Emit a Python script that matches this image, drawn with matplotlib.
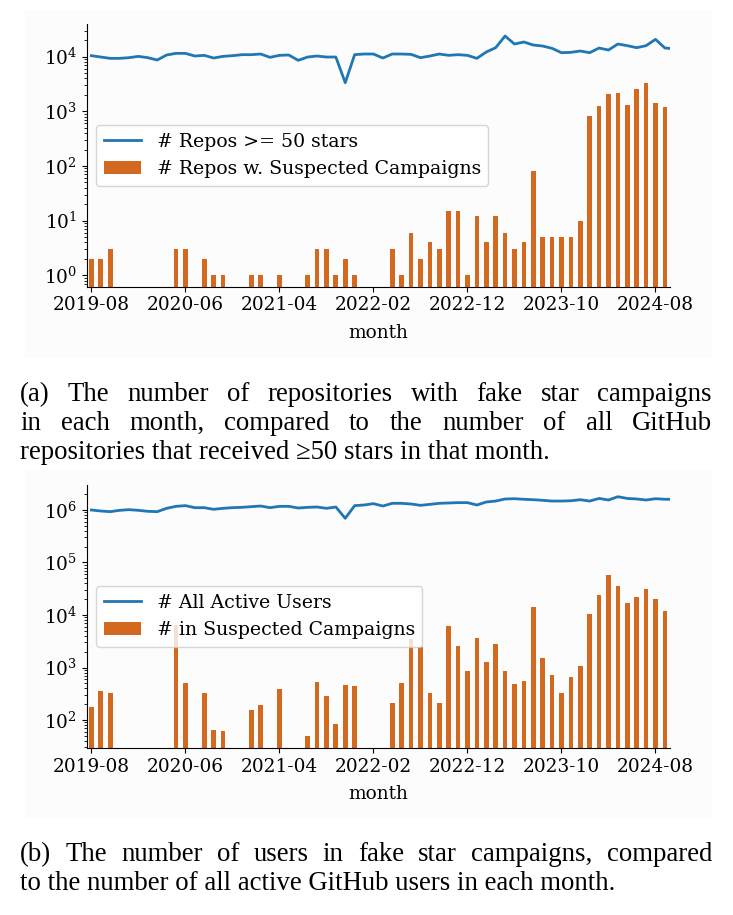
import numpy as np
import pandas as pd
import matplotlib
matplotlib.use("Agg")
import matplotlib.pyplot as plt
from matplotlib.patches import Rectangle

plt.rcParams['font.family'] = ['DejaVu Serif']
plt.rcParams['mathtext.fontset'] = 'dejavuserif'

# ---------------- data ----------------
months = [str(p) for p in pd.period_range('2019-08', periods=63, freq='M')]
tick_labels = ['2019-08', '2020-06', '2021-04', '2022-02', '2022-12', '2023-10', '2024-08']

nan = np.nan
repos_50_stars = [10430, 9860, 9320, 9320, 9590, 10140, 9590, 8690, 10730, 11510,
                  11510, 10280, 10580, 9450, 10140, 10430, 10880, 10880, 11190, 9730,
                  10580, 10730, 8570, 9860, 10280, 9860, 9860, 3340, 10880, 11190,
                  11190, 9450, 11190, 11190, 11030, 9590, 10280, 11190, 10580, 10880,
                  10580, 9320, 12170, 14610, 23890, 17050, 18550, 16340, 15670, 14210,
                  11830, 12000, 12700, 11830, 14400, 13240, 17050, 15900, 14610, 15900,
                  20760, 14400, 14000]
repos_campaigns = [2, 2, 3, nan, nan, nan, nan, nan, nan, 3,
                   3, nan, 2, 1, 1, nan, nan, 1, 1, nan,
                   1, nan, nan, 1, 3, 3, 1, 2, 1, nan,
                   nan, nan, 3, 1, 6, 2, 4, 3, 15, 15,
                   1, 12, 4, 12, 6, 3, 4, 80, 5, 5,
                   5, 5, 10, 820, 1250, 2070, 2160, 1300, 2560, 3300,
                   1420, 1200, nan]

active_users = [1.0e6, 9.56e5, 9.30e5, 9.85e5, 1.015e6, 9.85e5, 9.43e5, 9.30e5, 1.076e6, 1.174e6,
                1.21e6, 1.107e6, 1.107e6, 1.03e6, 1.076e6, 1.107e6, 1.124e6, 1.157e6, 1.19e6, 1.107e6,
                1.174e6, 1.174e6, 1.09e6, 1.124e6, 1.14e6, 1.076e6, 1.14e6, 6.94e5, 1.21e6, 1.245e6,
                1.32e6, 1.19e6, 1.34e6, 1.34e6, 1.30e6, 1.227e6, 1.28e6, 1.34e6, 1.36e6, 1.38e6,
                1.38e6, 1.245e6, 1.42e6, 1.48e6, 1.62e6, 1.64e6, 1.60e6, 1.57e6, 1.53e6, 1.48e6,
                1.48e6, 1.50e6, 1.57e6, 1.48e6, 1.66e6, 1.55e6, 1.79e6, 1.66e6, 1.62e6, 1.55e6,
                1.64e6, 1.60e6, 1.60e6]
users_campaigns = [180, 350, 320, nan, nan, nan, nan, nan, nan, 6500,
                   510, nan, 320, 64, 62, nan, nan, 155, 193, nan,
                   390, nan, nan, 50, 530, 286, 84, 464, 445, nan,
                   nan, nan, 211, 507, 3500, 2500, 327, 211, 6170, 2570,
                   858, 3650, 1274, 2806, 858, 485, 553, 14190, 1517, 719,
                   327, 659, 1069, 10450, 24040, 57800, 35600, 16900, 22000, 31300,
                   20200, 11900, nan]

caption_a = ["(a) The number of repositories with fake star campaigns",
             "in each month, compared to the number of all GitHub",
             "repositories that received \u226550 stars in that month."]
caption_b = ["(b) The number of users in fake star campaigns, compared",
             "to the number of all active GitHub users in each month."]

# ---------------- figure ----------------
W, H = 733, 915
fig = plt.figure(figsize=(W / 100, H / 100), dpi=100)
fig.patch.set_facecolor('white')

# faint background of the embedded chart images
for (x0, y0, x1, y1) in [(25, 10, 712, 358), (25, 470, 712, 818)]:
    fig.patches.append(Rectangle((x0 / W, 1 - y1 / H), (x1 - x0) / W, (y1 - y0) / H,
                                 transform=fig.transFigure, facecolor='#fcfcfc',
                                 edgecolor='none', zorder=-10))

BLUE = '#1f77b4'
ORANGE = '#d2691e'
FS = 13.3

def make_panel(rect, line_vals, bar_vals, line_label, bar_label, ylim):
    ax = fig.add_axes(rect)
    ax.set_facecolor('none')
    x = np.arange(len(months))
    ax.bar(x, bar_vals, width=0.5, color=ORANGE, label=bar_label, zorder=2)
    ax.plot(x, line_vals, color=BLUE, lw=2.0, label=line_label, zorder=3)
    ax.set_yscale('log')
    ax.set_ylim(*ylim)
    ax.set_xlim(-0.5, 61.5)
    tick_pos = [months.index(t) for t in tick_labels]
    ax.set_xticks(tick_pos)
    ax.set_xticklabels(tick_labels)
    ax.tick_params(labelsize=FS)
    ax.set_xlabel('month', fontsize=FS, labelpad=7)
    for s in ['top', 'right']:
        ax.spines[s].set_visible(False)
    ax.legend(loc='center left', fontsize=13.6, framealpha=0.8)
    return ax

ax1 = make_panel([86.7 / W, 1 - 286.7 / H, 582.9 / W, 262.7 / H],
                 repos_50_stars, repos_campaigns,
                 '# Repos >= 50 stars', '# Repos w. Suspected Campaigns',
                 (10 ** -0.2086, 10 ** 4.598))
ax2 = make_panel([86.7 / W, 1 - 748 / H, 582.9 / W, 263 / H],
                 active_users, users_campaigns,
                 '# All Active Users', '# in Suspected Campaigns',
                 (10 ** 1.467, 10 ** 6.476))

# ---------------- captions (justified) ----------------
renderer = fig.canvas.get_renderer()
CAP_FONT = dict(family=['Liberation Serif', 'DejaVu Serif'], fontsize=19.3, color='black')

def paragraph(lines, baselines, x0=20, x1=712):
    for i, (line, yb) in enumerate(zip(lines, baselines)):
        yf = 1 - yb / H
        if i == len(lines) - 1:
            fig.text(x0 / W, yf, line, ha='left', va='baseline', **CAP_FONT)
            continue
        words = line.split(' ')
        texts = [fig.text(0, yf, w, ha='left', va='baseline', **CAP_FONT) for w in words]
        widths = [t.get_window_extent(renderer).width for t in texts]
        gap = ((x1 - x0) - sum(widths)) / (len(words) - 1)
        xp = x0
        for t, w in zip(texts, widths):
            t.set_x(xp / W)
            xp += w + gap

paragraph(caption_a, [401, 430, 459])
paragraph(caption_b, [861, 890])

fig.savefig('out.png', dpi=100)
